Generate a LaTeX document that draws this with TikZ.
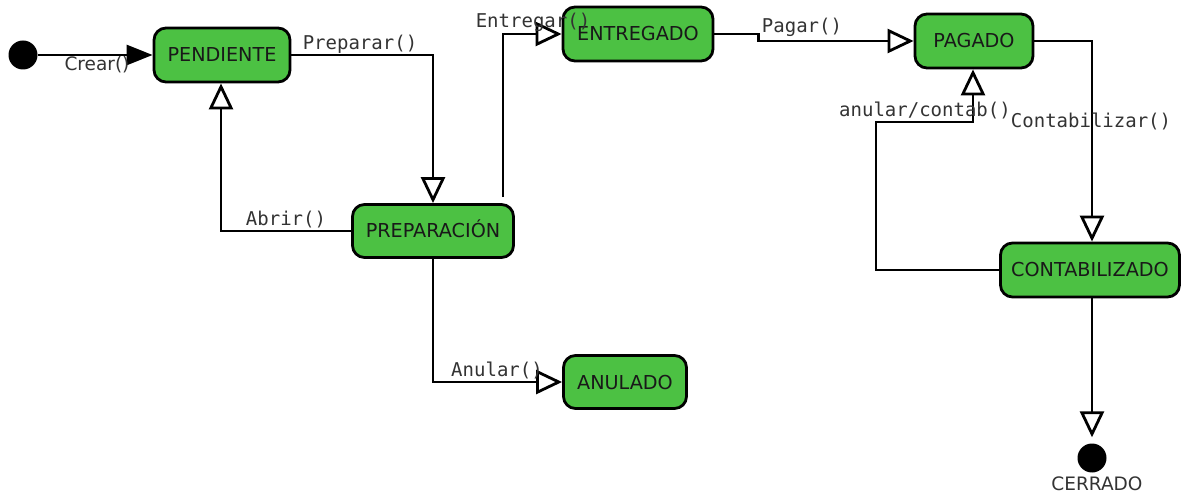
\documentclass[tikz,border=0pt]{standalone}
\usepackage{fontspec}
\setmainfont{DejaVu Sans}
\setmonofont{DejaVu Sans Mono}
\usetikzlibrary{arrows.meta}
\definecolor{stategreen}{RGB}{76,193,67}
\definecolor{labelgray}{RGB}{51,51,51}
\tikzset{
  state/.style={draw=black, line width=2.8pt, fill=stategreen, rounded corners=12pt,
    text=black!90, font=\fontsize{19.2}{21}\selectfont,
    text height=14pt, text depth=0pt, inner sep=0pt},
  trans/.style={line width=2.8pt, -{Triangle[open, length=26pt, width=24pt]}},
  firstarrow/.style={line width=2.8pt, -{Triangle[length=26pt, width=20pt]}},
  pseudo/.style={circle, fill=black, minimum size=29pt, inner sep=0pt},
  lbl/.style={text=labelgray, font=\ttfamily\fontsize{19}{21}\selectfont,
    text height=14pt, text depth=0pt, inner sep=0pt},
  slbl/.style={text=labelgray, font=\fontsize{18.5}{20}\selectfont,
    text height=13.5pt, text depth=0pt, inner sep=0pt}
}
\begin{document}
\begin{tikzpicture}[x=1pt, y=-1pt]
\useasboundingbox (0,0) rectangle (1181,494);

% states
\node[state, minimum width=136pt, minimum height=54pt] (pend) at (222,55) {PENDIENTE};
\node[state, minimum width=161pt, minimum height=53pt] (prep) at (433,231) {PREPARACIÓN};
\node[state, minimum width=150pt, minimum height=54pt] (entr) at (638,34) {ENTREGADO};
\node[state, minimum width=118pt, minimum height=54pt] (pag) at (974,41) {PAGADO};
\node[state, minimum width=179pt, minimum height=54pt] (cont) at (1090,270) {CONTABILIZADO};
\node[state, minimum width=123pt, minimum height=53pt] (anul) at (625,382) {ANULADO};

% initial and final pseudo-states
\node[pseudo] (ini) at (23,55) {};
\node[pseudo] (fin) at (1092,458) {};
\node[slbl] (cerr) at (1097,484) {CERRADO};

% transitions
\draw[firstarrow] (ini.east) -- (pend.west);
\draw[trans] (pend.east) -| (prep.north);
\draw[trans] (prep.west) -| ([xshift=-1pt]pend.south);
\draw[trans, shorten <=6pt] ([xshift=70pt]prep.north) |- (entr.west);
\draw[trans] (entr.east) -- ++(44,0) |- (pag.west);
\draw[trans] (pag.east) -| ([xshift=2pt]cont.north);
\coordinate (loop) at (876,122);
\draw[trans] (cont.west) -| (loop) -| ([xshift=-1pt]pag.south);
\draw[trans, shorten >=6pt] ([xshift=2pt]cont.south) -- (fin.north);
\draw[trans] (prep.south) |- (anul.west);

% transition labels
\node[slbl] (lcrear) at (97,64) {Crear()};
\node[lbl] (lprep) at (360,43) {Preparar()};
\node[lbl] (labrir) at (286,219) {Abrir()};
\node[lbl] (lentr) at (533,21) {Entregar()};
\node[lbl] (lpagar) at (802,26) {Pagar()};
\node[lbl] (lanco) at (925,110) {anular/contab()};
\node[lbl] (lcont) at (1091,121) {Contabilizar()};
\node[lbl] (lanul) at (497,370) {Anular()};
\end{tikzpicture}
\end{document}
